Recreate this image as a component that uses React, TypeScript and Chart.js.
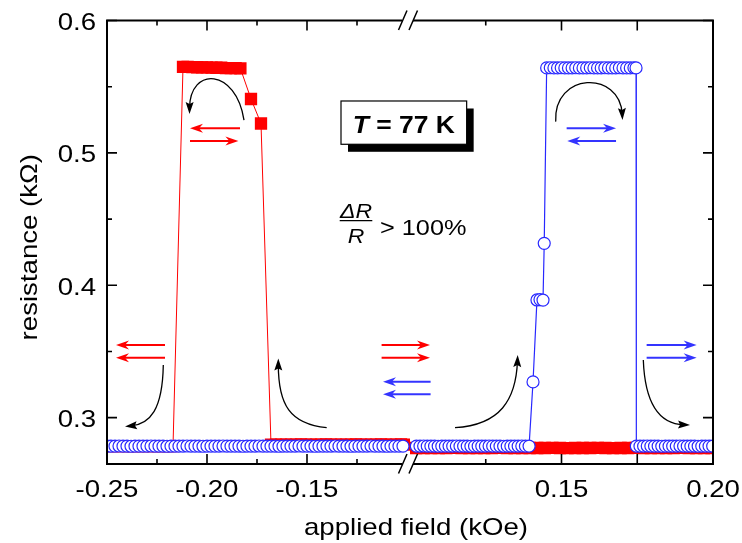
import { useEffect, useRef } from "react";
import { Chart, registerables } from "chart.js";

Chart.register(...registerables);

// ---- measured data (field in kOe, resistance in kOhm) ----

// sweep toward negative field: filled red squares
const redNegField = [
  -0.1005, -0.1030, -0.1055, -0.1080, -0.1105, -0.1130, -0.1155, -0.1180, -0.1205, -0.1230,
  -0.1255, -0.1280, -0.1305, -0.1330, -0.1355, -0.1380, -0.1405, -0.1430, -0.1455, -0.1480,
  -0.1505, -0.1530, -0.1555, -0.1580, -0.1605, -0.1630, -0.1655, -0.1680,
  -0.1730, -0.1780,
  -0.1833, -0.1857, -0.1881, -0.1905, -0.1929, -0.1953, -0.1977, -0.2001, -0.2025, -0.2049,
  -0.2073, -0.2097, -0.2120,
  -0.2170, -0.2195, -0.2220, -0.2245, -0.2270, -0.2295, -0.2320, -0.2345, -0.2370, -0.2395,
  -0.2420, -0.2445, -0.2470, -0.2495,
];
const redNegRes = [
  0.2797, 0.2798, 0.2797, 0.2796, 0.2797, 0.2798, 0.2797, 0.2797, 0.2796, 0.2797,
  0.2798, 0.2797, 0.2797, 0.2796, 0.2797, 0.2797, 0.2798, 0.2797, 0.2796, 0.2797,
  0.2797, 0.2798, 0.2797, 0.2797, 0.2796, 0.2797, 0.2797, 0.2797,
  0.5222, 0.5407,
  0.5638, 0.5640, 0.5640, 0.5641, 0.5643, 0.5643, 0.5644, 0.5646, 0.5646, 0.5647,
  0.5648, 0.5650, 0.5650,
  0.2785, 0.2785, 0.2785, 0.2785, 0.2785, 0.2785, 0.2785, 0.2785, 0.2785, 0.2785,
  0.2785, 0.2785, 0.2785, 0.2785,
];
const redPosField = [
  0.1995, 0.1970, 0.1945, 0.1920, 0.1895, 0.1870, 0.1845, 0.1820, 0.1795, 0.1770,
  0.1745, 0.1720, 0.1695, 0.1670, 0.1645, 0.1620, 0.1595, 0.1570, 0.1545, 0.1520,
  0.1495, 0.1470, 0.1445, 0.1420, 0.1395, 0.1370, 0.1345, 0.1320, 0.1295, 0.1270,
  0.1245, 0.1220, 0.1195, 0.1170, 0.1145, 0.1120, 0.1095, 0.1070, 0.1045, 0.1020,
];
const redPosRes = [
  0.2771, 0.2771, 0.2770, 0.2771, 0.2772, 0.2771, 0.2771, 0.2770, 0.2771, 0.2771,
  0.2772, 0.2771, 0.2771, 0.2770, 0.2771, 0.2772, 0.2771, 0.2771, 0.2771, 0.2770,
  0.2771, 0.2772, 0.2771, 0.2771, 0.2771, 0.2770, 0.2771, 0.2771, 0.2772, 0.2771,
  0.2771, 0.2770, 0.2771, 0.2771, 0.2772, 0.2771, 0.2771, 0.2771, 0.2770, 0.2771,
];

// sweep toward positive field: open blue circles
const blueNegField = [
  -0.250, -0.248, -0.246, -0.244, -0.242, -0.240, -0.238, -0.236, -0.234, -0.232,
  -0.230, -0.228, -0.226, -0.224, -0.222, -0.220, -0.218, -0.216, -0.214, -0.212,
  -0.210, -0.208, -0.206, -0.204, -0.202, -0.200, -0.198, -0.196, -0.194, -0.192,
  -0.190, -0.188, -0.186, -0.184, -0.182, -0.180, -0.178, -0.176, -0.174, -0.172,
  -0.170, -0.168, -0.166, -0.164, -0.162, -0.160, -0.158, -0.156, -0.154, -0.152,
  -0.150, -0.148, -0.146, -0.144, -0.142, -0.140, -0.138, -0.136, -0.134, -0.132,
  -0.130, -0.128, -0.126, -0.124, -0.122, -0.120, -0.118, -0.116, -0.114, -0.112,
  -0.110, -0.108, -0.106, -0.104, -0.102,
];
const blueNegRes = [
  0.2785, 0.2785, 0.2785, 0.2786, 0.2785, 0.2785, 0.2784, 0.2785, 0.2785, 0.2785,
  0.2785, 0.2786, 0.2785, 0.2785, 0.2785, 0.2784, 0.2785, 0.2785, 0.2785, 0.2785,
  0.2786, 0.2785, 0.2785, 0.2785, 0.2784, 0.2785, 0.2785, 0.2785, 0.2785, 0.2786,
  0.2785, 0.2785, 0.2785, 0.2785, 0.2784, 0.2785, 0.2785, 0.2785, 0.2786, 0.2785,
  0.2785, 0.2785, 0.2785, 0.2784, 0.2785, 0.2785, 0.2785, 0.2785, 0.2786, 0.2785,
  0.2785, 0.2785, 0.2784, 0.2785, 0.2785, 0.2785, 0.2785, 0.2786, 0.2785, 0.2785,
  0.2785, 0.2784, 0.2785, 0.2785, 0.2785, 0.2785, 0.2786, 0.2785, 0.2785, 0.2785,
  0.2784, 0.2785, 0.2785, 0.2785, 0.2785,
];
const bluePosField = [
  0.1021, 0.1033, 0.1045, 0.1057, 0.1069, 0.1081, 0.1093, 0.1105, 0.1117, 0.1129,
  0.1141, 0.1153, 0.1165, 0.1177, 0.1189, 0.1201, 0.1213, 0.1225, 0.1237, 0.1249,
  0.1261, 0.1273, 0.1285, 0.1297, 0.1309, 0.1321, 0.1333, 0.1345, 0.1357, 0.1369,
  0.1381, 0.1393,
  0.1406, 0.1419, 0.1429, 0.1439, 0.1443,
  0.1451, 0.1463, 0.1475, 0.1487, 0.1499, 0.1511, 0.1523, 0.1535, 0.1547, 0.1559,
  0.1571, 0.1583, 0.1595, 0.1607, 0.1619, 0.1631, 0.1643, 0.1655, 0.1667, 0.1679,
  0.1691, 0.1703, 0.1715, 0.1727, 0.1739, 0.1746,
  0.1747, 0.1759, 0.1771, 0.1783, 0.1795, 0.1807, 0.1819, 0.1831, 0.1843, 0.1855,
  0.1867, 0.1879, 0.1891, 0.1903, 0.1915, 0.1927, 0.1939, 0.1951, 0.1963, 0.1975,
  0.1987, 0.1999,
];
const bluePosRes = [
  0.2785, 0.2785, 0.2786, 0.2785, 0.2785, 0.2785, 0.2784, 0.2785, 0.2785, 0.2785,
  0.2785, 0.2786, 0.2785, 0.2785, 0.2785, 0.2784, 0.2785, 0.2785, 0.2785, 0.2785,
  0.2786, 0.2785, 0.2785, 0.2785, 0.2784, 0.2785, 0.2785, 0.2785, 0.2785, 0.2786,
  0.2785, 0.2785,
  0.3270, 0.3889, 0.3892, 0.3888, 0.4317,
  0.5642, 0.5643, 0.5642, 0.5642, 0.5643, 0.5642, 0.5642, 0.5642, 0.5643, 0.5642,
  0.5642, 0.5642, 0.5643, 0.5642, 0.5642, 0.5642, 0.5643, 0.5642, 0.5642, 0.5642,
  0.5643, 0.5642, 0.5642, 0.5642, 0.5643, 0.5642,
  0.2785, 0.2785, 0.2785, 0.2786, 0.2785, 0.2785, 0.2785, 0.2784, 0.2785, 0.2785,
  0.2785, 0.2785, 0.2786, 0.2785, 0.2785, 0.2785, 0.2785, 0.2784, 0.2785, 0.2785,
  0.2785, 0.2785,
];

// ---- axes ----
const fieldNegRange = [-0.25, -0.0985];
const fieldPosRange = [0.1, 0.2];
const resRange = [0.265, 0.6];

const yMajorTicks = [0.3, 0.4, 0.5, 0.6];
const yMinorTicks = [0.35, 0.45, 0.55];
const yTickLabels = ["0.3", "0.4", "0.5", "0.6"];
const xNegMajorTicks = [-0.25, -0.2, -0.15];
const xNegMinorTicks = [-0.225, -0.175, -0.125];
const xNegTickLabels = ["-0.25", "-0.20", "-0.15"];
const xPosMajorTicks = [0.15, 0.175, 0.2];
const xPosMinorTicks = [0.125];
const xPosLabelTicks = [0.15, 0.2];
const xPosTickLabels = ["0.15", "0.20"];

const xTitle = "applied field (kOe)";
const yTitle = "resistance (kΩ)";

const RED = "#ff0000";
const BLUE = "#2828ff";
const ARROW_BLUE = "#3434ff";
const FONT = '"Liberation Sans", Arial, Helvetica, sans-serif';
const SX = 1.15;

type P = [string, number, number];

// sweep-direction double arrows: [start, tip]
const dirArrows: { color: string; from: P; to: P }[] = [
  { color: RED, from: ["xN", -0.1835, 0.5186], to: ["xN", -0.2085, 0.5186] },
  { color: RED, from: ["xN", -0.2085, 0.509], to: ["xN", -0.1843, 0.509] },
  { color: ARROW_BLUE, from: ["xP", 0.1517, 0.5186], to: ["xP", 0.168, 0.5186] },
  { color: ARROW_BLUE, from: ["xP", 0.168, 0.509], to: ["xP", 0.1519, 0.509] },
  { color: RED, from: ["xN", -0.221, 0.3549], to: ["xN", -0.2455, 0.3549] },
  { color: RED, from: ["xN", -0.221, 0.3453], to: ["xN", -0.2455, 0.3453] },
  { color: RED, from: ["xN", -0.1127, 0.3549], to: ["xP", 0.1066, 0.3549] },
  { color: RED, from: ["xN", -0.1127, 0.3453], to: ["xP", 0.1066, 0.3453] },
  { color: ARROW_BLUE, from: ["xP", 0.1068, 0.3272], to: ["xN", -0.112, 0.3272] },
  { color: ARROW_BLUE, from: ["xP", 0.1068, 0.3177], to: ["xN", -0.112, 0.3177] },
  { color: ARROW_BLUE, from: ["xP", 0.1781, 0.3549], to: ["xP", 0.1946, 0.3549] },
  { color: ARROW_BLUE, from: ["xP", 0.1781, 0.3453], to: ["xP", 0.1946, 0.3453] },
];

// curved black arrows (cubic curves, tip at the last point)
const curveArrows: P[][] = [
  [["xN", -0.1815, 0.5248], ["xN", -0.1855, 0.5641], ["xN", -0.2085, 0.5656], ["xN", -0.20875, 0.5294]],
  [["xP", 0.14809, 0.5236], ["xP", 0.14719, 0.5611], ["xP", 0.16931, 0.5626], ["xP", 0.17013, 0.5248]],
  [["xN", -0.22185, 0.3398], ["xN", -0.22225, 0.3058], ["xN", -0.2285, 0.2952], ["xN", -0.241, 0.2933]],
  [["xN", -0.14015, 0.2924], ["xN", -0.1585, 0.2952], ["xN", -0.16435, 0.3096], ["xN", -0.16435, 0.3447]],
  [["xP", 0.11485, 0.2924], ["xP", 0.1297, 0.2945], ["xP", 0.13498, 0.3133], ["xP", 0.13554, 0.3473]],
  [["xP", 0.177, 0.3436], ["xP", 0.17756, 0.3095], ["xP", 0.18251, 0.2952], ["xP", 0.19241, 0.2945]],
];

// temperature label box and the dR/R note
const tempBox = { left: ["xN", -0.133] as [string, number], right: ["xP", 0.1187] as [string, number], top: 0.5392, bottom: 0.5065, baseline: 0.5152 };
const ratioNote = { x: ["xN", -0.1255] as [string, number], numBase: 0.4508, bar: 0.4489, denBase: 0.4319, halfBar: 0.00815, restX: ["xN", -0.1135] as [string, number], restBase: 0.438 };

function pts(xs: number[], ys: number[]) {
  return xs.map((x, i) => ({ x, y: ys[i] }));
}

function drawText(ctx: CanvasRenderingContext2D, text: string, x: number, y: number, font: string, align: CanvasTextAlign, angle = 0) {
  ctx.save();
  ctx.translate(x, y);
  if (angle) ctx.rotate(angle);
  ctx.scale(SX, 1);
  ctx.font = font;
  ctx.textAlign = align;
  ctx.textBaseline = "alphabetic";
  ctx.fillStyle = "#000";
  ctx.fillText(text, 0, 0);
  ctx.restore();
}

function head(ctx: CanvasRenderingContext2D, tx: number, ty: number, dx: number, dy: number, len: number, half: number, notch: number, color: string) {
  const d = Math.hypot(dx, dy) || 1;
  const ux = dx / d, uy = dy / d, nx = -uy, ny = ux;
  ctx.beginPath();
  ctx.moveTo(tx, ty);
  ctx.lineTo(tx - ux * len + nx * half, ty - uy * len + ny * half);
  ctx.lineTo(tx - ux * (len - notch), ty - uy * (len - notch));
  ctx.lineTo(tx - ux * len - nx * half, ty - uy * len - ny * half);
  ctx.closePath();
  ctx.fillStyle = color;
  ctx.fill();
}

const decor = {
  id: "decor",
  afterDatasetsDraw(chart: any) {
    const ctx: CanvasRenderingContext2D = chart.ctx;
    const { left, right, top, bottom } = chart.chartArea;
    const sc = chart.scales;
    const yS = sc.y;
    const X = (id: string, v: number) => sc[id].getPixelForValue(v);
    const Y = (v: number) => yS.getPixelForValue(v);
    const brk = sc.xN.right - 2;

    ctx.save();
    // frame with the axis break
    ctx.strokeStyle = "#000";
    ctx.lineWidth = 2;
    ctx.lineCap = "butt";
    ctx.beginPath();
    ctx.moveTo(left, top - 1); ctx.lineTo(left, bottom + 1);
    ctx.moveTo(right, top - 1); ctx.lineTo(right, bottom + 1);
    for (const yy of [top, bottom]) {
      ctx.moveTo(left, yy); ctx.lineTo(brk - 6, yy);
      ctx.moveTo(brk + 5, yy); ctx.lineTo(right, yy);
    }
    ctx.stroke();
    ctx.lineWidth = 1.5;
    ctx.beginPath();
    for (const yy of [top, bottom]) {
      for (const off of [-5, 5.5]) {
        ctx.moveTo(brk + off - 4.5, yy + 9.5);
        ctx.lineTo(brk + off + 4, yy - 10);
      }
    }
    ctx.stroke();

    // inward ticks
    ctx.lineWidth = 1.6;
    ctx.beginPath();
    const yTick = (v: number, len: number) => {
      const p = Y(v);
      ctx.moveTo(left, p); ctx.lineTo(left + len, p);
      ctx.moveTo(right, p); ctx.lineTo(right - len, p);
    };
    yMajorTicks.forEach((v) => yTick(v, 10));
    yMinorTicks.forEach((v) => yTick(v, 5));
    const xTick = (id: string, v: number, len: number) => {
      const p = X(id, v);
      ctx.moveTo(p, bottom); ctx.lineTo(p, bottom - len);
      ctx.moveTo(p, top); ctx.lineTo(p, top + len);
    };
    xNegMajorTicks.forEach((v) => xTick("xN", v, 10));
    xNegMinorTicks.forEach((v) => xTick("xN", v, 5));
    xPosMajorTicks.forEach((v) => xTick("xP", v, 10));
    xPosMinorTicks.forEach((v) => xTick("xP", v, 5));
    ctx.stroke();

    // tick labels and titles
    const tickFont = `24px ${FONT}`;
    yMajorTicks.forEach((v, i) => drawText(ctx, yTickLabels[i], left - 11, Y(v) + 9.5, tickFont, "right"));
    xNegMajorTicks.forEach((v, i) => drawText(ctx, xNegTickLabels[i], X("xN", v), bottom + 33, tickFont, "center"));
    xPosLabelTicks.forEach((v, i) => drawText(ctx, xPosTickLabels[i], X("xP", v), bottom + 33, tickFont, "center"));
    drawText(ctx, xTitle, (left + right) / 2 + 6, bottom + 71, tickFont, "center");
    drawText(ctx, yTitle, 37, (top + bottom) / 2 + 5, tickFont, "center", -Math.PI / 2);

    // sweep-direction arrows
    ctx.lineWidth = 2;
    for (const a of dirArrows) {
      const x0 = X(a.from[0], a.from[1]), y0 = Y(a.from[2]);
      const x1 = X(a.to[0], a.to[1]), y1 = Y(a.to[2]);
      const d = Math.hypot(x1 - x0, y1 - y0);
      const ux = (x1 - x0) / d, uy = (y1 - y0) / d;
      ctx.strokeStyle = a.color;
      ctx.beginPath();
      ctx.moveTo(x0, y0);
      ctx.lineTo(x1 - ux * 8, y1 - uy * 8);
      ctx.stroke();
      head(ctx, x1, y1, ux, uy, 13, 4.5, 4, a.color);
    }

    // curved black arrows
    ctx.strokeStyle = "#000";
    ctx.lineWidth = 1.3;
    for (const c of curveArrows) {
      const p = c.map((q) => [X(q[0], q[1]), Y(q[2])]);
      const dx = p[3][0] - p[2][0], dy = p[3][1] - p[2][1];
      const d = Math.hypot(dx, dy);
      ctx.beginPath();
      ctx.moveTo(p[0][0], p[0][1]);
      ctx.bezierCurveTo(p[1][0], p[1][1], p[2][0], p[2][1], p[3][0] - (dx / d) * 6, p[3][1] - (dy / d) * 6);
      ctx.stroke();
      head(ctx, p[3][0], p[3][1], dx, dy, 12, 4, 2, "#000");
    }

    // T = 77 K box with drop shadow
    const bl = X(tempBox.left[0], tempBox.left[1]);
    const br = X(tempBox.right[0], tempBox.right[1]);
    const bt = Y(tempBox.top), bb = Y(tempBox.bottom);
    ctx.fillStyle = "#000";
    ctx.fillRect(bl + 7, bt + 7.5, br - bl, bb - bt);
    ctx.fillStyle = "#fff";
    ctx.fillRect(bl, bt, br - bl, bb - bt);
    ctx.strokeStyle = "#000";
    ctx.lineWidth = 1.2;
    ctx.strokeRect(bl, bt, br - bl, bb - bt);
    const fT = `italic bold 23px ${FONT}`;
    const fRest = `bold 23px ${FONT}`;
    ctx.font = fT;
    const wT = ctx.measureText("T").width * SX;
    ctx.font = fRest;
    const wRest = ctx.measureText(" = 77 K").width * SX;
    const sx0 = (bl + br) / 2 - (wT + wRest) / 2;
    const by = Y(tempBox.baseline);
    drawText(ctx, "T", sx0, by, fT, "left");
    drawText(ctx, " = 77 K", sx0 + wT, by, fRest, "left");

    // dR/R > 100%
    const fx = X(ratioNote.x[0], ratioNote.x[1]);
    const fracFont = `italic 20px ${FONT}`;
    drawText(ctx, "ΔR", fx, Y(ratioNote.numBase), fracFont, "center");
    drawText(ctx, "R", fx, Y(ratioNote.denBase), fracFont, "center");
    ctx.strokeStyle = "#000";
    ctx.lineWidth = 1.2;
    ctx.beginPath();
    ctx.moveTo(X(ratioNote.x[0], ratioNote.x[1] - ratioNote.halfBar), Y(ratioNote.bar));
    ctx.lineTo(X(ratioNote.x[0], ratioNote.x[1] + ratioNote.halfBar), Y(ratioNote.bar));
    ctx.stroke();
    drawText(ctx, "> 100%", X(ratioNote.restX[0], ratioNote.restX[1]), Y(ratioNote.restBase), `22px ${FONT}`, "left");
    ctx.restore();
  },
};

export default function App() {
  const ref = useRef<HTMLCanvasElement>(null);

  useEffect(() => {
    if (!ref.current) return;
    const redStyle = {
      showLine: true,
      borderColor: RED,
      borderWidth: 1,
      pointStyle: "rect",
      pointRadius: 8.7,
      pointBackgroundColor: RED,
      pointBorderColor: RED,
      pointBorderWidth: 0,
      order: 2,
      clip: 0,
    };
    const blueStyle = {
      showLine: true,
      borderColor: BLUE,
      borderWidth: 1.2,
      pointStyle: "circle",
      pointRadius: 6,
      pointBackgroundColor: "#ffffff",
      pointBorderColor: BLUE,
      pointBorderWidth: 1.2,
      order: 1,
      clip: 0,
    };
    const chart = new Chart(ref.current, {
      type: "scatter",
      data: {
        datasets: [
          { ...blueStyle, label: "up, H<0", xAxisID: "xN", yAxisID: "y", data: pts(blueNegField, blueNegRes) },
          { ...blueStyle, label: "up, H>0", xAxisID: "xP", yAxisID: "y", data: pts(bluePosField, bluePosRes) },
          { ...redStyle, label: "down, H<0", xAxisID: "xN", yAxisID: "y", data: pts(redNegField, redNegRes) },
          { ...redStyle, label: "down, H>0", xAxisID: "xP", yAxisID: "y", data: pts(redPosField, redPosRes) },
        ] as any,
      },
      options: {
        animation: false,
        responsive: false,
        devicePixelRatio: 1,
        layout: { padding: { left: 107, top: 20.5, right: 29, bottom: 79 } },
        plugins: { legend: { display: false }, tooltip: { enabled: false } },
        elements: { line: { tension: 0 } },
        scales: {
          xN: { type: "linear", position: "bottom", stack: "field", stackWeight: 1, min: fieldNegRange[0], max: fieldNegRange[1], display: false },
          xP: { type: "linear", position: "bottom", stack: "field", stackWeight: 1, min: fieldPosRange[0], max: fieldPosRange[1], display: false },
          y: { type: "linear", position: "left", min: resRange[0], max: resRange[1], display: false },
        },
      } as any,
      plugins: [decor],
    });
    return () => chart.destroy();
  }, []);

  return (
    <div style={{ position: "fixed", left: 0, top: 0, width: 742, height: 543, background: "#fff" }}>
      <canvas ref={ref} width={742} height={543} style={{ display: "block", width: 742, height: 543 }} />
    </div>
  );
}
